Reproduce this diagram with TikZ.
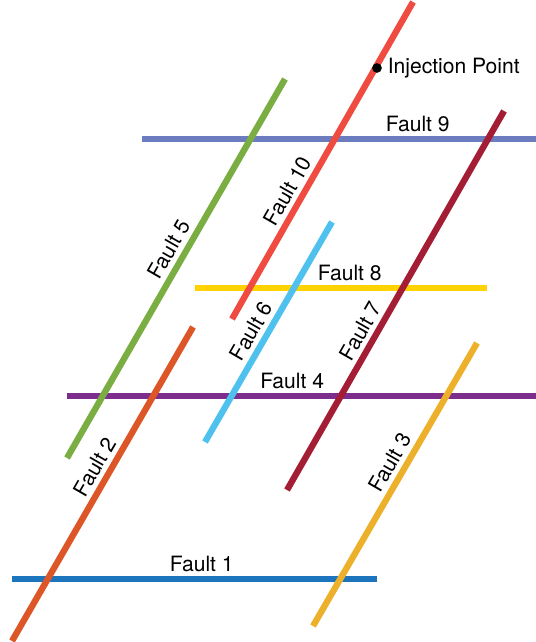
\documentclass[tikz,border=0pt]{standalone}
\usepackage{fontspec}
\setmainfont{TeX Gyre Heros}
\usetikzlibrary{positioning}
\definecolor{fblue}{HTML}{1C75BC}
\definecolor{forange}{HTML}{DD5627}
\definecolor{fgold}{HTML}{ECB02A}
\definecolor{fpurple}{HTML}{7D2D8C}
\definecolor{fgreen}{HTML}{7AAD42}
\definecolor{fsky}{HTML}{4FC1EE}
\definecolor{fwine}{HTML}{A31D34}
\definecolor{fyellow}{HTML}{FFD200}
\definecolor{fslate}{HTML}{6B7CBF}
\definecolor{fred}{HTML}{EF4B40}
\begin{document}
\begin{tikzpicture}[x=0.02cm,y=-0.02cm,
        fault/.style={line width=3.6pt},
        flabel/.style={sloped,above,inner sep=2.5pt,font=\fontsize{12}{14}\selectfont}]
    \useasboundingbox (0,0) rectangle (536,642);
    % end points of the faults
    \coordinate (f1a) at (12,579);  \coordinate (f1b) at (377,579);
    \coordinate (f2a) at (12,641);  \coordinate (f2b) at (193,327);
    \coordinate (f3a) at (313,626); \coordinate (f3b) at (477,343);
    \coordinate (f4a) at (67,396);  \coordinate (f4b) at (536,396);
    \coordinate (f5a) at (67,458);  \coordinate (f5b) at (285,79);
    \coordinate (f6a) at (205,442); \coordinate (f6b) at (332,222);
    \coordinate (f7a) at (287,490); \coordinate (f7b) at (504,111);
    \coordinate (f8a) at (195,288); \coordinate (f8b) at (487,288);
    \coordinate (f9a) at (142,139); \coordinate (f9b) at (536,139);
    \coordinate (f10a) at (232,319); \coordinate (f10b) at (413,2);
    % horizontal faults
    \draw[fault,fblue] (f1a) -- node[flabel,pos=.52,text=black] {Fault 1} (f1b);
    \draw[fault,fpurple] (f4a) -- node[flabel,pos=.48,text=black] {Fault 4} (f4b);
    \draw[fault,fyellow] (f8a) -- node[flabel,pos=.53,text=black] {Fault 8} (f8b);
    \draw[fault,fslate] (f9a) -- node[flabel,pos=.70,text=black] {Fault 9} (f9b);
    % inclined faults
    \draw[fault,forange] (f2a) -- node[flabel,pos=.53,text=black] {Fault 2} (f2b);
    \draw[fault,fgold] (f3a) -- node[flabel,pos=.55,text=black] {Fault 3} (f3b);
    \draw[fault,fgreen] (f5a) -- node[flabel,pos=.53,text=black] {Fault 5} (f5b);
    \draw[fault,fsky] (f6a) -- node[flabel,pos=.47,text=black] {Fault 6} (f6b);
    \draw[fault,fwine] (f7a) -- node[flabel,pos=.40,text=black] {Fault 7} (f7b);
    \draw[fault,fred] (f10a) -- node[flabel,pos=.38,text=black] {Fault 10} (f10b);
    % injection
    \node[circle,fill=black,inner sep=0pt,minimum size=5.5pt] (inj) at (377,68) {};
    \node[right=3pt of inj,inner sep=0pt,font=\fontsize{12}{14}\selectfont] (injlabel) {Injection Point};
\end{tikzpicture}
\end{document}
